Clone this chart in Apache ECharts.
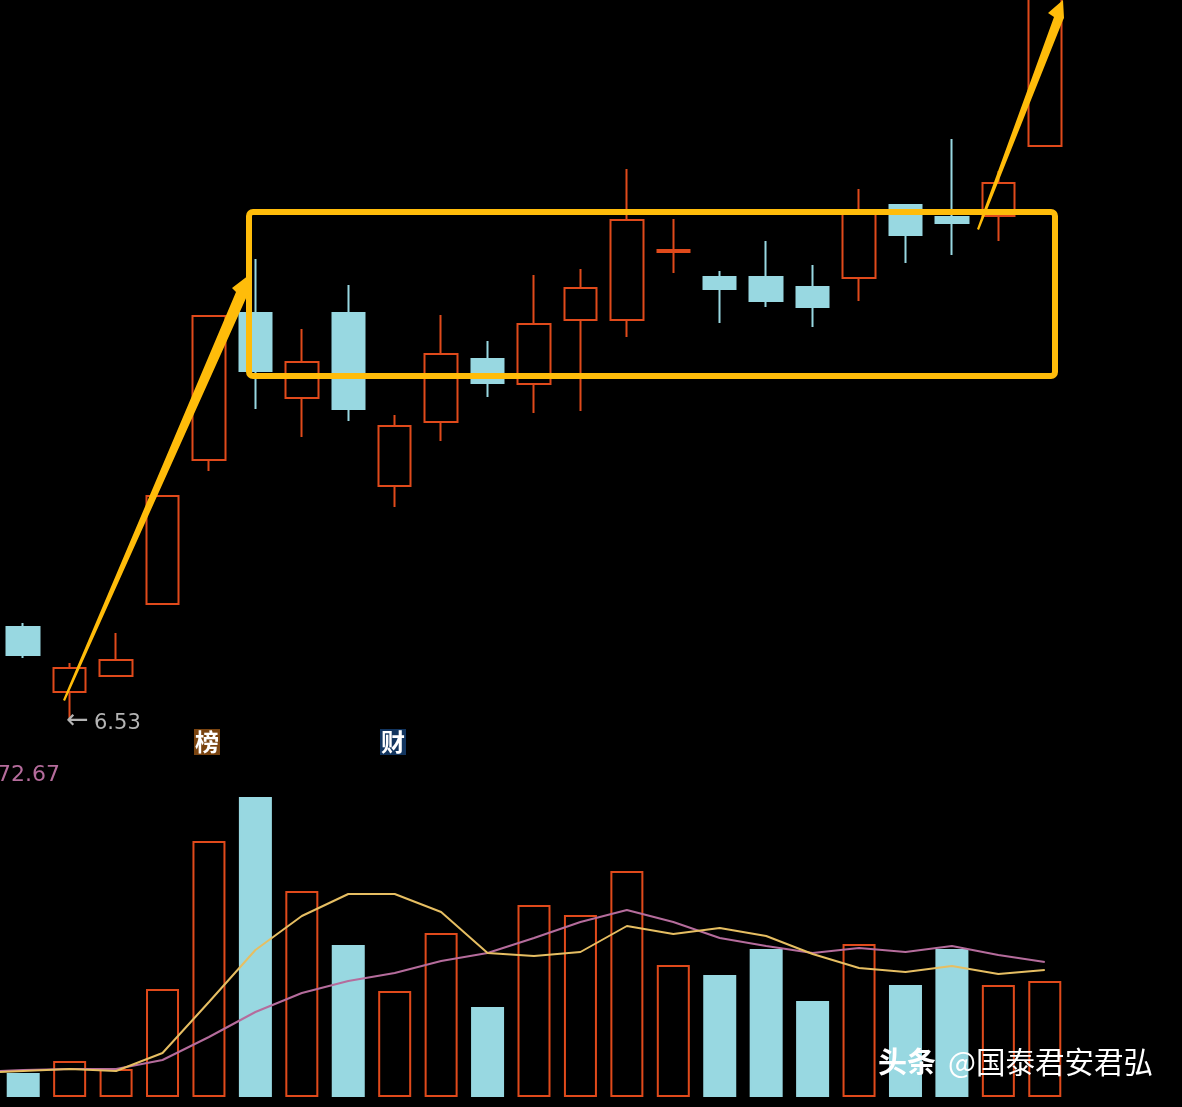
<!DOCTYPE html>
<html>
<head>
<meta charset="utf-8">
<title>K line</title>
<style>
  html, body { margin: 0; padding: 0; background: #000; }
  #container { width: 1182px; height: 1107px; }
</style>
<script src="https://cdn.jsdelivr.net/npm/echarts@6/dist/echarts.min.js"></script>
</head>
<body>
<div id="container"></div>
<script>
var categories = ['D1', 'D2', 'D3', 'D4', 'D5', 'D6', 'D7', 'D8', 'D9', 'D10', 'D11', 'D12',
  'D13', 'D14', 'D15', 'D16', 'D17', 'D18', 'D19', 'D20', 'D21', 'D22', 'D23'];

var opens = [7.44, 6.79, 6.95, 7.67, 9.11, 10.58, 9.73, 10.58, 8.85, 9.49, 10.12, 9.87,
  10.51, 10.51, 11.19, 10.94, 10.94, 10.84, 10.93, 11.66, 11.54, 11.55, 12.25];
var closes = [7.16, 7.03, 7.11, 8.75, 10.55, 10.00, 10.09, 9.62, 9.45, 10.17, 9.88, 10.47,
  10.83, 11.51, 11.21, 10.82, 10.70, 10.64, 11.59, 11.36, 11.48, 11.88, 13.90];
var lows = [7.13, 6.53, 6.95, 7.67, 9.00, 9.62, 9.34, 9.50, 8.64, 9.30, 9.74, 9.58,
  9.60, 10.34, 10.98, 10.48, 10.64, 10.44, 10.70, 11.08, 11.16, 11.30, 12.25];
var highs = [7.48, 7.08, 7.38, 8.75, 10.55, 11.12, 10.42, 10.86, 9.56, 10.56, 10.30, 10.96,
  11.02, 12.02, 11.52, 11.00, 11.30, 11.06, 11.82, 11.66, 12.32, 12.00, 14.00];

var volumes = [4.8, 7.2, 5.6, 21.6, 51.2, 60.0, 41.2, 30.4, 21.2, 32.8, 18.0, 38.4,
  36.4, 45.2, 26.4, 24.4, 29.6, 19.2, 30.6, 22.4, 29.6, 22.4, 23.2];

// first point sits half a bar left of D1, the lines run in from the edge
var maIndex = [-0.5, 0, 1, 2, 3, 4, 5, 6, 7, 8, 9, 10, 11, 12, 13, 14, 15, 16, 17, 18, 19, 20, 21, 22];
var maShort = [5.0, 5.2, 5.6, 5.2, 8.8, 19.0, 29.4, 36.2, 40.6, 40.6, 37.0, 28.8, 28.2,
  29.0, 34.2, 32.6, 33.8, 32.2, 28.6, 25.8, 25.0, 26.2, 24.6, 25.4];
var maLong = [5.2, 5.4, 5.6, 5.6, 7.4, 12.0, 17.0, 20.8, 23.2, 24.8, 27.2, 28.8, 31.8,
  35.0, 37.4, 35.0, 31.8, 30.2, 28.8, 29.8, 29.0, 30.2, 28.4, 27.0];

var lowArrow = '←';
var lowLabel = '6.53';
var volumeMaxLabel = '72.67';
var eventLabels = ['榜', '财'];
var watermarkBold = '头条';
var watermarkName = '@国泰君安君弘';

var upColor = '#E04A1B';
var downColor = '#98D8E1';
var markerColor = '#FFBC0A';

var candleData = [];
var volumeData = [];
var maShortData = [];
var maLongData = [];
for (var i = 0; i < categories.length; i++) {
  candleData.push([opens[i], closes[i], lows[i], highs[i]]);
  var up = closes[i] > opens[i];
  volumeData.push({
    value: volumes[i],
    itemStyle: {
      color: up ? '#000' : downColor,
      borderColor: up ? upColor : downColor,
      borderWidth: 2
    }
  });
}
for (var j = 0; j < maIndex.length; j++) {
  maShortData.push([maIndex[j], maShort[j]]);
  maLongData.push([maIndex[j], maLong[j]]);
}

var option = {
  backgroundColor: '#000',
  animation: false,
  grid: [
    {left: 0, top: 0, width: 1068, height: 720},
    {left: 0, top: 737, width: 1068, height: 360}
  ],
  xAxis: [
    {type: 'category', gridIndex: 0, data: categories, show: false},
    {type: 'category', gridIndex: 1, data: categories, show: false},
    {type: 'value', gridIndex: 1, min: -0.5, max: 22.5, show: false}
  ],
  yAxis: [
    {type: 'value', gridIndex: 0, min: 6.51, max: 13.71, show: false},
    {type: 'value', gridIndex: 1, min: 0, max: 72, show: false}
  ],
  series: [
    {
      name: 'K',
      type: 'candlestick',
      xAxisIndex: 0,
      yAxisIndex: 0,
      barWidth: 33,
      data: candleData,
      itemStyle: {
        color: '#000',
        color0: downColor,
        borderColor: upColor,
        borderColor0: downColor,
        borderWidth: 2
      }
    },
    {
      name: 'VOL',
      type: 'bar',
      xAxisIndex: 1,
      yAxisIndex: 1,
      barWidth: 33,
      data: volumeData
    },
    {
      name: 'MA5',
      type: 'line',
      xAxisIndex: 2,
      yAxisIndex: 1,
      symbol: 'none',
      z: 4,
      data: maShortData,
      lineStyle: {color: '#E6BE62', width: 2}
    },
    {
      name: 'MA10',
      type: 'line',
      xAxisIndex: 2,
      yAxisIndex: 1,
      symbol: 'none',
      z: 3,
      data: maLongData,
      lineStyle: {color: '#B56C9C', width: 2}
    }
  ],
  graphic: [
    // hand drawn markings and labels on top of the chart
    {
      type: 'rect', z: 50,
      shape: {x: 249, y: 212, width: 806, height: 164, r: 4},
      style: {fill: 'none', stroke: markerColor, lineWidth: 6}
    },
    {
      type: 'polygon', z: 50,
      shape: {points: [[63, 700], [236, 292], [232, 288], [249, 275], [251, 295], [247, 296], [65, 701]]},
      style: {fill: markerColor}
    },
    {
      type: 'polygon', z: 50,
      shape: {points: [[977, 229], [1054, 17], [1048, 13], [1063, 0], [1064, 18], [1063, 20], [979, 230]]},
      style: {fill: markerColor}
    },
    {
      type: 'text', z: 50,
      style: {text: lowArrow, x: 66, y: 707, fill: '#B4B4B4', font: '27px "DejaVu Sans"'}
    },
    {
      type: 'text', z: 50,
      style: {text: lowLabel, x: 94, y: 713, fill: '#B4B4B4', font: '21px "DejaVu Sans"'}
    },
    {
      type: 'text', z: 50,
      style: {text: volumeMaxLabel, x: -3, y: 764, fill: '#B56C9C', font: '22px "DejaVu Sans"'}
    },
    {
      type: 'rect', z: 50,
      shape: {x: 194, y: 729, width: 26, height: 26},
      style: {fill: '#7A4410'}
    },
    {
      type: 'text', z: 51,
      style: {text: eventLabels[0], x: 195, y: 730, fill: '#fff', font: 'bold 24px "Noto Sans CJK SC"'}
    },
    {
      type: 'rect', z: 50,
      shape: {x: 380, y: 729, width: 26, height: 26},
      style: {fill: '#12355F'}
    },
    {
      type: 'text', z: 51,
      style: {text: eventLabels[1], x: 381, y: 730, fill: '#fff', font: 'bold 24px "Noto Sans CJK SC"'}
    },
    {
      type: 'text', z: 60,
      style: {
        text: watermarkBold, x: 878, y: 1047, fill: '#fff',
        font: 'bold 29px "Noto Sans CJK SC"',
        shadowColor: 'rgba(0,0,0,0.9)', shadowBlur: 2, shadowOffsetX: 1, shadowOffsetY: 1
      }
    },
    {
      type: 'text', z: 60,
      style: {
        text: watermarkName, x: 948, y: 1047, fill: '#fff',
        font: '29.5px "Noto Sans CJK SC"',
        shadowColor: 'rgba(0,0,0,0.9)', shadowBlur: 2, shadowOffsetX: 1, shadowOffsetY: 1
      }
    }
  ]
};

var dom = document.getElementById('container');
var myChart = echarts.init(dom);
myChart.setOption(option);
</script>
</body>
</html>
